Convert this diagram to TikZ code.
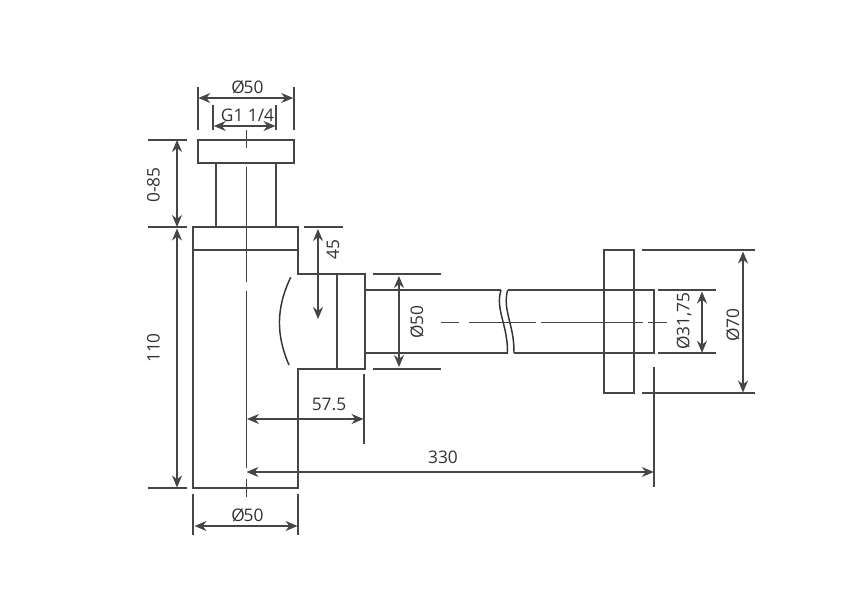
\documentclass[tikz,border=0pt]{standalone}
\usepackage{fontspec}
\setmainfont{Open Sans}
\usetikzlibrary{arrows.meta}
\definecolor{inkgray}{HTML}{454545}
\definecolor{textgray}{HTML}{333333}
\newcommand{\dia}{Ø\kern-.07em}
\tikzset{
  part/.style={draw=inkgray,line width=1.05pt},
  thin part/.style={draw=textgray,line width=1.1pt},
  center line/.style={draw=inkgray,line width=.7pt},
  ext line/.style={draw=inkgray,line width=1.05pt},
  dim/.style={draw=inkgray,line width=1.05pt,{Stealth[length=9pt,width=7.5pt]}-{Stealth[length=9pt,width=7.5pt]}},
  dim label/.style={text=textgray,font=\fontsize{13}{15}\selectfont,inner sep=0pt},
}
\begin{document}
\begin{tikzpicture}[x=.75pt,y=-.75pt]
\useasboundingbox (0,0) rectangle (865,600);

\draw[part] (198,140) rectangle (294,163);
\draw[part] (216,163) -- (216,227);
\draw[part] (276,163) -- (276,227);
\draw[part] (193,227) rectangle (298,250);
\draw[part] (193,250) -- (193,488) -- (298,488) -- (298,369) -- (365,369) -- (365,274) -- (298,274) -- (298,250);
\draw[part] (337,274) -- (337,369);
\draw[thin part] (290.7,277.3) .. controls (276,308) and (276,335) .. (289,365);

\draw[part] (365,290) -- (501,290);
\draw[part] (365,353) -- (507.5,353);
\draw[part] (507.7,290) -- (654,290) -- (654,353) -- (514,353);
\draw[thin part] (501,290) .. controls (495,310) and (508,325) .. (507.5,353);
\draw[thin part] (507.7,290) .. controls (502,310) and (514.5,325) .. (514,353);
\draw[part] (604,250) rectangle (634,393);

% center lines
\draw[center line] (246.5,130) -- (246.5,148);
\draw[center line] (246.5,166.7) -- (246.5,282);
\draw[center line] (246.5,291) -- (246.5,468);
\draw[center line] (246.5,479) -- (246.5,497);
\draw[center line] (440.7,322.5) -- (459.3,322.5);
\draw[center line] (469.3,322.5) -- (536,322.5);
\draw[center line] (541,322.5) -- (643,322.5);
\draw[center line] (648,322.5) -- (667,322.5);

% extension lines
\draw[ext line] (198,87.3) -- (198,130);
\draw[ext line] (294,87.3) -- (294,130);
\draw[ext line] (213,105) -- (213,130);
\draw[ext line] (276,105) -- (276,130);
\draw[ext line] (148.3,140) -- (187.3,140);
\draw[ext line] (148.3,227) -- (187.3,227);
\draw[ext line] (148.3,488) -- (187.3,488);
\draw[ext line] (304,227) -- (342.7,227);
\draw[ext line] (372.7,274) -- (440.7,274);
\draw[ext line] (372.7,369) -- (440.7,369);
\draw[ext line] (364,374.3) -- (364,444.3);
\draw[ext line] (654,366.7) -- (654,487.3);
\draw[ext line] (193,494) -- (193,535);
\draw[ext line] (298,494) -- (298,535);
\draw[ext line] (658.3,290) -- (716,290);
\draw[ext line] (658.3,353) -- (716,353);
\draw[ext line] (642.3,250) -- (755,250);
\draw[ext line] (642.3,393) -- (755,393);

% dimension end points
\coordinate (topl) at (198.3,98);
\coordinate (topr) at (293.2,98);
\coordinate (gl) at (213.8,126);
\coordinate (gr) at (275.5,126);
\coordinate (capt) at (177,140);
\coordinate (capb) at (177,227);
\coordinate (bodyt) at (177,228.5);
\coordinate (bodyb) at (177,487.5);
\coordinate (sockt) at (318,229);
\coordinate (sockb) at (318,319);
\coordinate (outt) at (399,276);
\coordinate (outb) at (399,367);
\coordinate (midl) at (247,419);
\coordinate (midr) at (363.5,419);
\coordinate (longl) at (246.5,472);
\coordinate (longr) at (653.8,472);
\coordinate (botl) at (194.5,526);
\coordinate (botr) at (297.5,526);
\coordinate (pipet) at (702,291.5);
\coordinate (pipeb) at (702,352.8);
\coordinate (flant) at (743,251.5);
\coordinate (flanb) at (743,392.5);

\draw[dim] (topl) -- (topr);
\draw[dim] (gl) -- (gr);
\draw[dim] (capt) -- (capb);
\draw[dim] (bodyt) -- (bodyb);
\draw[dim] (sockt) -- (sockb);
\draw[dim] (outt) -- (outb);
\draw[dim] (midl) -- (midr);
\draw[dim] (longl) -- (longr);
\draw[dim] (botl) -- (botr);
\draw[dim] (pipet) -- (pipeb);
\draw[dim] (flant) -- (flanb);

\begin{scope}[every node/.style={dim label}]
\node (dtop) at (247.5,87) {\dia 50};
\node (dg) at (247.5,115.5) {G1 1/4};
\node[rotate=90] (dcap) at (153.5,185) {0-85};
\node[rotate=90] (dbody) at (153.5,348) {110};
\node[rotate=90] (dsock) at (333,250) {45};
\node[rotate=90] (dout) at (417,322) {\dia 50};
\node (dmid) at (329,404) {57.5};
\node (dlong) at (443,457) {330};
\node (dbot) at (247.5,515) {\dia 50};
\node[rotate=90] (dpipe) at (684,321) {\dia 31,75};
\node[rotate=90] (dflan) at (733,325) {\dia 70};
\end{scope}
\end{tikzpicture}
\end{document}
